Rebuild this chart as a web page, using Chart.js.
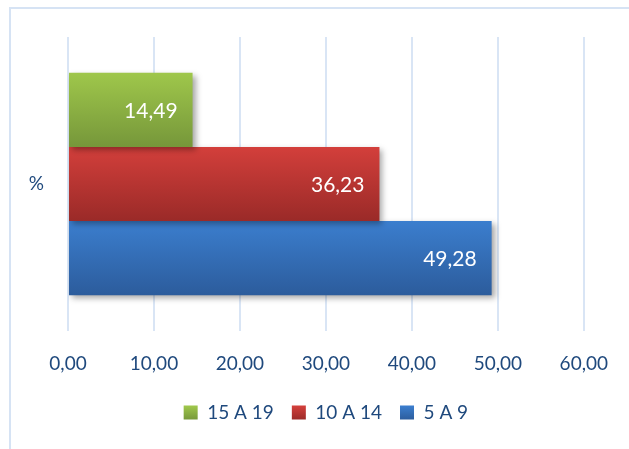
<!DOCTYPE html>
<html lang="pt">
<head>
    <meta charset="UTF-8">
    <title>Faixa etária</title>
    <script src="https://cdn.jsdelivr.net/npm/chart.js"></script>
    <style>
        html, body {
            margin: 0;
            padding: 0;
            background: #ffffff;
        }
        .chart-box {
            position: relative;
            width: 629px;
            height: 449px;
        }
    </style>
</head>
<body>
    <div class="chart-box">
        <canvas id="faixaChart"></canvas>
    </div>

    <script>
        // dados do gráfico
        const categorias = ['%'];
        const faixas = ['15 A 19', '10 A 14', '5 A 9'];
        const valores15a19 = [14.49];
        const valores10a14 = [36.23];
        const valores5a9 = [49.28];
        const ticksX = [0, 10, 20, 30, 40, 50, 60];

        // cores (topo / base) do degradê de cada barra
        const cores = [
            ['#9fc74b', '#76973a'],
            ['#d33f3b', '#9a2a28'],
            ['#3b7ece', '#2c5c9c']
        ];

        const fonte = 'Lato, "Open Sans", sans-serif';
        const azulTexto = '#1f497d';
        const formata = v => Number(v).toFixed(2).replace('.', ',');

        const gradiente = (ctx, top, bottom, par) => {
            const g = ctx.createLinearGradient(0, top, 0, bottom);
            g.addColorStop(0, par[0]);
            g.addColorStop(1, par[1]);
            return g;
        };

        // moldura, degradê, sombra e rótulos das barras
        const estiloBarras = {
            id: 'estiloBarras',
            beforeDraw(chart) {
                const ctx = chart.ctx;
                ctx.save();
                ctx.strokeStyle = '#d6e3f4';
                ctx.lineWidth = 2;
                ctx.beginPath();
                ctx.moveTo(10, 449);
                ctx.lineTo(10, 8);
                ctx.lineTo(629, 8);
                ctx.stroke();
                ctx.restore();
            },
            beforeDatasetsDraw(chart) {
                const ctx = chart.ctx;
                chart.data.datasets.forEach((ds, i) => {
                    chart.getDatasetMeta(i).data.forEach(el => {
                        const top = el.y - el.height / 2;
                        el.options.backgroundColor = gradiente(ctx, top, top + el.height, cores[i]);
                    });
                });
                ctx.save();
                ctx.shadowColor = 'rgba(0, 0, 0, 0.35)';
                ctx.shadowBlur = 6;
                ctx.shadowOffsetX = 3;
                ctx.shadowOffsetY = 3;
            },
            afterDatasetsDraw(chart) {
                const ctx = chart.ctx;
                ctx.restore();
                ctx.save();
                ctx.fillStyle = '#ffffff';
                ctx.font = '21px ' + fonte;
                ctx.textAlign = 'right';
                ctx.textBaseline = 'middle';
                chart.data.datasets.forEach((ds, i) => {
                    chart.getDatasetMeta(i).data.forEach((el, j) => {
                        ctx.fillText(formata(ds.data[j]), el.x - 15, el.y + 1);
                    });
                });
                ctx.restore();
            }
        };

        new Chart(document.getElementById('faixaChart'), {
            type: 'bar',
            data: {
                labels: categorias,
                datasets: [
                    { label: faixas[0], data: valores15a19, backgroundColor: cores[0][0] },
                    { label: faixas[1], data: valores10a14, backgroundColor: cores[1][0] },
                    { label: faixas[2], data: valores5a9, backgroundColor: cores[2][0] }
                ]
            },
            options: {
                indexAxis: 'y',
                responsive: true,
                maintainAspectRatio: false,
                animation: false,
                layout: {
                    padding: { left: 10, right: 42, top: 37, bottom: 17 }
                },
                datasets: {
                    bar: {
                        barPercentage: 1,
                        categoryPercentage: 0.757
                    }
                },
                scales: {
                    x: {
                        min: 0,
                        max: 60,
                        afterBuildTicks: axis => {
                            axis.ticks = ticksX.map(v => ({ value: v }));
                        },
                        afterFit: axis => { axis.height = 54; },
                        grid: {
                            color: '#d9e5f5',
                            lineWidth: 2,
                            drawTicks: false
                        },
                        border: { display: false },
                        ticks: {
                            padding: 21,
                            color: azulTexto,
                            font: { family: fonte, size: 19 },
                            callback: v => formata(v)
                        }
                    },
                    y: {
                        afterFit: axis => { axis.width = 58; },
                        grid: { display: false, drawTicks: false },
                        border: { display: false },
                        ticks: {
                            padding: 24,
                            color: azulTexto,
                            font: { family: fonte, size: 19 }
                        }
                    }
                },
                plugins: {
                    tooltip: { enabled: false },
                    legend: {
                        position: 'bottom',
                        fullSize: false,
                        labels: {
                            boxWidth: 14,
                            boxHeight: 14,
                            padding: 18,
                            color: azulTexto,
                            font: { family: fonte, size: 19 },
                            generateLabels: chart => chart.data.datasets.map((ds, i) => ({
                                text: ds.label,
                                fillStyle: gradiente(chart.ctx, 406, 420, cores[i]),
                                strokeStyle: 'transparent',
                                lineWidth: 0,
                                fontColor: azulTexto,
                                datasetIndex: i
                            }))
                        }
                    }
                }
            },
            plugins: [estiloBarras]
        });
    </script>
</body>
</html>
